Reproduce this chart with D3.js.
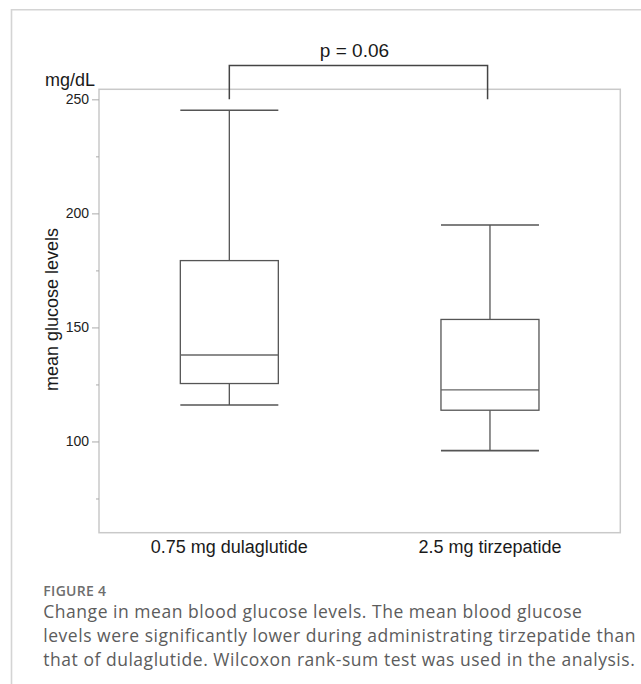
<!DOCTYPE html>
<html>
<head>
<meta charset="utf-8">
<script src="https://cdn.jsdelivr.net/npm/d3@7"></script>
<style>
  html, body { margin: 0; padding: 0; background: #fff; }
  svg { display: block; }
</style>
</head>
<body>
<svg id="chart" width="641" height="684"></svg>
<script>
// Box-plot summaries of mean glucose (mg/dL) per treatment
const groups = ["0.75 mg dulaglutide", "2.5 mg tirzepatide"];
const whiskerLow = [116.0, 96.0];
const q1 = [125.4, 113.7];
const median = [137.9, 122.6];
const q3 = [179.3, 153.5];
const whiskerHigh = [245.2, 194.9];

const majorTicks = [100, 150, 200, 250];
const minorTicks = [75, 125, 175, 225];

const comparisonLabel = "p = 0.06";
const bracketBase = 250;
const bracketTop = 264.8;

const unitLabel = "mg/dL";
const yTitle = "mean glucose levels";
const figureLabel = "FIGURE 4";
const captionLines = [
  "Change in mean blood glucose levels. The mean blood glucose",
  "levels were significantly lower during administrating tirzepatide than",
  "that of dulaglutide. Wilcoxon rank-sum test was used in the analysis."
];

const svg = d3.select("#chart");
const plot = { left: 99, right: 620.3, top: 89.3, bottom: 532.7 };
const sans = "'Liberation Sans', Arial, Helvetica, sans-serif";

// Outer figure frame (top and left rules)
svg.append("path")
  .attr("d", `M11.5,684 V9.7 H641`)
  .attr("fill", "none")
  .attr("stroke", "#d4d4d4")
  .attr("stroke-width", 1.6);

const x = d3.scaleBand().domain(groups).range([plot.left, plot.right]).padding(0);
const y = d3.scaleLinear().domain([60, 254.4]).range([plot.bottom, plot.top]);
const boxW = x.bandwidth() * 0.376;
const cx = g => x(g) + x.bandwidth() / 2;

// Plot frame
svg.append("rect")
  .attr("x", plot.left).attr("y", plot.top)
  .attr("width", plot.right - plot.left).attr("height", plot.bottom - plot.top)
  .attr("fill", "none").attr("stroke", "#c9c9c9").attr("stroke-width", 1.5);

// Y axis: labelled major ticks and short minor ticks
const yAxis = svg.append("g")
  .attr("transform", `translate(${plot.left},0)`)
  .call(d3.axisLeft(y).tickValues(majorTicks).tickSize(7).tickPadding(3).tickFormat(d3.format("d")));
yAxis.select(".domain").remove();
yAxis.selectAll(".tick line").attr("stroke", "#aaa");
yAxis.selectAll(".tick text").attr("fill", "#222").style("font-family", sans).style("font-size", "14px");

const yMinor = svg.append("g")
  .attr("transform", `translate(${plot.left},0)`)
  .call(d3.axisLeft(y).tickValues(minorTicks).tickSize(3).tickFormat(""));
yMinor.select(".domain").remove();
yMinor.selectAll(".tick line").attr("stroke", "#aaa");

// Category labels
svg.append("g").selectAll("text").data(groups).join("text")
  .attr("x", d => cx(d)).attr("y", 553.3)
  .attr("text-anchor", "middle")
  .attr("fill", "#1a1a1a")
  .style("font-family", sans).style("font-size", "18px")
  .text(d => d);

// Unit and axis title
svg.append("text")
  .attr("x", 45).attr("y", 86)
  .attr("fill", "#1a1a1a")
  .style("font-family", sans).style("font-size", "18px")
  .text(unitLabel);

svg.append("text")
  .attr("transform", `translate(58.3,${(plot.top + plot.bottom) / 2 - 1.5}) rotate(-90)`)
  .attr("text-anchor", "middle")
  .attr("fill", "#1a1a1a")
  .style("font-family", sans).style("font-size", "18px")
  .text(yTitle);

// Boxes with whiskers
const stroke = "#555";
const boxes = svg.append("g").selectAll("g").data(groups).join("g");
boxes.each(function (g, i) {
  const s = d3.select(this);
  const c = cx(g);
  // whisker stems
  s.append("line").attr("x1", c).attr("x2", c).attr("y1", y(whiskerHigh[i])).attr("y2", y(q3[i]))
    .attr("stroke", stroke).attr("stroke-width", 1.3);
  s.append("line").attr("x1", c).attr("x2", c).attr("y1", y(q1[i])).attr("y2", y(whiskerLow[i]))
    .attr("stroke", stroke).attr("stroke-width", 1.3);
  // whisker caps
  [whiskerHigh[i], whiskerLow[i]].forEach(v => {
    s.append("line").attr("x1", c - boxW / 2).attr("x2", c + boxW / 2).attr("y1", y(v)).attr("y2", y(v))
      .attr("stroke", stroke).attr("stroke-width", 1.6);
  });
  // box
  s.append("rect")
    .attr("x", c - boxW / 2).attr("y", y(q3[i]))
    .attr("width", boxW).attr("height", y(q1[i]) - y(q3[i]))
    .attr("fill", "none").attr("stroke", stroke).attr("stroke-width", 1.3);
  // median
  s.append("line").attr("x1", c - boxW / 2).attr("x2", c + boxW / 2).attr("y1", y(median[i])).attr("y2", y(median[i]))
    .attr("stroke", "#666").attr("stroke-width", 1.3);
});

// Significance bracket
const bx0 = cx(groups[0]), bx1 = cx(groups[1]) - 2.4;
svg.append("path")
  .attr("d", `M${bx0},${y(bracketBase)} V${y(bracketTop)} H${bx1} V${y(bracketBase)}`)
  .attr("fill", "none").attr("stroke", "#444").attr("stroke-width", 1.5);
svg.append("text")
  .attr("x", (bx0 + bx1) / 2 - 4).attr("y", 56.7)
  .attr("text-anchor", "middle")
  .attr("fill", "#1a1a1a")
  .style("font-family", sans).style("font-size", "19px")
  .text(comparisonLabel);

// Caption
const capFont = "'Open Sans', Lato, sans-serif";
svg.append("text")
  .attr("x", 43.3).attr("y", 596)
  .attr("fill", "#6e6e6e")
  .style("font-family", capFont).style("font-size", "14px").style("font-weight", 600)
  .style("letter-spacing", "0.3px")
  .text(figureLabel);
const capLines = svg.append("g").selectAll("text").data(captionLines).join("text")
  .attr("x", 43.3).attr("y", (d, i) => 617.5 + i * 24.3)
  .attr("fill", "#5c5c5c")
  .style("font-family", capFont).style("font-size", "17.5px")
  .text(d => d);
// Spread the caption so its longest line runs to the right margin
const longest = capLines.nodes()[2];
const chars = captionLines[2].length;
const spacing = (592 - longest.getComputedTextLength()) / chars;
capLines.style("letter-spacing", `${spacing}px`);
</script>
</body>
</html>
